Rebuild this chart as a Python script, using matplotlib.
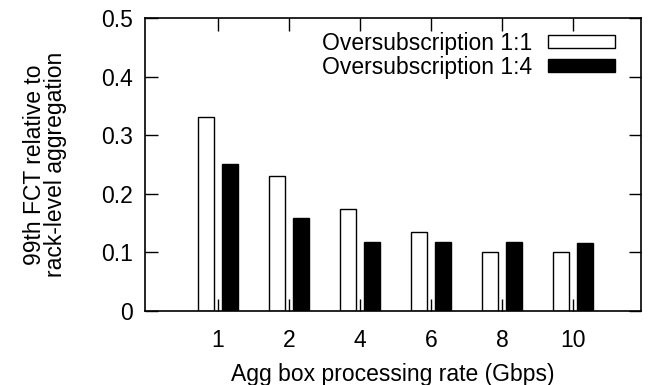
import matplotlib
matplotlib.use("Agg")
import matplotlib.pyplot as plt
import numpy as np

plt.rcParams['font.family'] = ['Liberation Sans', 'DejaVu Sans']

rates = ['1', '2', '4', '6', '8', '10']
over_1_1 = [0.331, 0.230, 0.174, 0.134, 0.101, 0.101]
over_1_4 = [0.251, 0.159, 0.118, 0.118, 0.117, 0.116]
series_names = ['Oversubscription 1:1', 'Oversubscription 1:4']

fs = 16.5
fig = plt.figure(figsize=(6.5, 3.85), dpi=100)
ax = fig.add_axes([145/650, 1 - 311/385, 496/650, 293/385])

x = np.arange(len(rates))
w = 0.22
ax.bar(x - 0.17, over_1_1, w, color='white', edgecolor='black', linewidth=1.0,
       label=series_names[0])
ax.bar(x + 0.17, over_1_4, w, color='black', edgecolor='black', linewidth=1.0,
       label=series_names[1])

ax.set_xlim(-1.03, 5.96)
ax.set_ylim(0, 0.5)
ax.set_xticks(x)
ax.set_xticklabels(rates)
ax.set_yticks([0, 0.1, 0.2, 0.3, 0.4, 0.5])
ax.set_yticklabels(['0', '0.1', '0.2', '0.3', '0.4', '0.5'])
ax.tick_params(direction='in', length=9, width=1, top=True, right=True,
               labelsize=fs)
ax.tick_params(axis='y', pad=9)
ax.tick_params(axis='x', pad=13)
for s in ax.spines.values():
    s.set_linewidth(1.2)

ax.set_xlabel('Agg box processing rate (Gbps)', fontsize=fs, labelpad=8)
ax.set_ylabel('99th FCT relative to\nrack-level aggregation', fontsize=fs,
              labelpad=24, linespacing=0.92)

ax.legend(loc='upper right', frameon=False, markerfirst=False, fontsize=fs,
          handlelength=2.9, handleheight=0.5, handletextpad=0.7,
          labelspacing=0.05, borderaxespad=0.2, bbox_to_anchor=(0.975, 1.0))

fig.savefig('out.png', dpi=100)
